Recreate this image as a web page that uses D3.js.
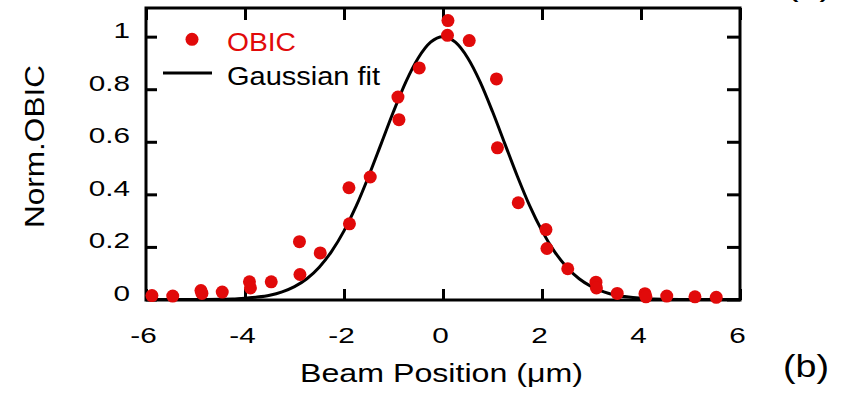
<!DOCTYPE html>
<html>
<head>
<meta charset="utf-8">
<script src="https://cdn.jsdelivr.net/npm/d3@7"></script>
<style>
  html, body { margin: 0; padding: 0; background: #fff; }
  svg { display: block; }
  text { font-family: "Liberation Sans", Arial, Helvetica, sans-serif; }
</style>
</head>
<body>
<svg id="chart" width="841" height="395"></svg>
<script>
// ---- data ----
const obicX = [-5.88, -5.46, -4.89, -4.87, -4.46, -3.91, -3.89, -3.47, -2.90, -2.89, -2.48,
               -1.90, -1.89, -1.47, -0.91, -0.89, -0.48, 0.09, 0.10, 0.53, 1.08, 1.10,
               1.52, 2.08, 2.10, 2.52, 3.09, 3.10, 3.52, 4.08, 4.10, 4.52, 5.09, 5.52];
const obicY = [0.015, 0.013, 0.034, 0.023, 0.028, 0.067, 0.044, 0.067, 0.220, 0.095, 0.177,
               0.425, 0.288, 0.466, 0.770, 0.684, 0.881, 1.005, 1.061, 0.985, 0.839, 0.577,
               0.368, 0.266, 0.194, 0.117, 0.066, 0.044, 0.023, 0.022, 0.010, 0.013, 0.010, 0.008];

const fitX = [-6, -5.5, -5, -4.5, -4.25, -4, -3.75, -3.5, -3.25, -3, -2.75, -2.5, -2.25, -2, -1.75,
              -1.5, -1.25, -1, -0.75, -0.5, -0.25, 0, 0.25, 0.5, 0.75, 1, 1.25, 1.5, 1.75, 2,
              2.25, 2.5, 2.75, 3, 3.25, 3.5, 3.75, 4, 4.25, 4.5, 5, 5.5, 6];
const fitY = [0, 0, 0, 0.001, 0.002, 0.005, 0.009, 0.016, 0.029, 0.049, 0.079, 0.123, 0.183, 0.261, 0.357,
              0.470, 0.592, 0.715, 0.828, 0.919, 0.979, 1.000, 0.979, 0.919, 0.828, 0.715, 0.592, 0.470, 0.357, 0.261,
              0.183, 0.123, 0.079, 0.049, 0.029, 0.016, 0.009, 0.005, 0.002, 0.001, 0, 0, 0];

const xTicks = [-6, -4, -2, 0, 2, 4, 6];
const xTickLabels = ["-6", "-4", "-2", "0", "2", "4", "6"];
const yTicks = [0, 0.2, 0.4, 0.6, 0.8, 1];
const yTickLabels = ["0", "0.2", "0.4", "0.6", "0.8", "1"];
const seriesNames = ["OBIC", "Gaussian fit"];
const xTitle = "Beam Position (\u03BCm)";
const yTitle = "Norm.OBIC";
const panelLabels = ["(a)", "(b)"];

// ---- layout ----
const red = "#e10a0a";
const L = 146, R = 740, T = 8, B = 300;
const svg = d3.select("#chart");

const x = d3.scaleLinear().domain([-6, 6]).range([L, R]);
const y = d3.scaleLinear().domain([-0.002, 1.109]).range([B, T]);

const sx = 1.35; // horizontal stretch of tick labels

// bottom axis
const gB = svg.append("g").attr("transform", `translate(0,${B})`)
  .call(d3.axisBottom(x).tickValues(xTicks).tickSizeInner(-11).tickSizeOuter(0)
        .tickFormat((d, i) => xTickLabels[i]));
gB.selectAll("text").attr("y", 0).attr("dy", 0).attr("transform", `translate(-3,43) scale(${sx},1)`);

// top axis
svg.append("g").attr("transform", `translate(0,${T})`)
  .call(d3.axisTop(x).tickValues(xTicks).tickSizeInner(-12).tickSizeOuter(0).tickFormat(""));

// left axis
const gL = svg.append("g").attr("transform", `translate(${L},0)`)
  .call(d3.axisLeft(y).tickValues(yTicks).tickSizeInner(-11).tickSizeOuter(0)
        .tickFormat((d, i) => yTickLabels[i]));
gL.selectAll("text").attr("x", 0).attr("dy", 0).attr("transform", `translate(-16,1) scale(${sx},1)`);

// right axis
svg.append("g").attr("transform", `translate(${R},0)`)
  .call(d3.axisRight(y).tickValues(yTicks).tickSizeInner(-13).tickSizeOuter(0).tickFormat(""));

svg.selectAll(".domain").remove();
svg.selectAll(".tick line").attr("stroke", "#000").attr("stroke-width", 3);
svg.selectAll(".tick text").attr("font-size", 22).attr("fill", "#000")
   .attr("font-family", "'Liberation Sans', Arial, sans-serif");

// frame
svg.append("rect").attr("x", L).attr("y", T).attr("width", R - L).attr("height", B - T)
  .attr("fill", "none").attr("stroke", "#000").attr("stroke-width", 3);

// fit line
const line = d3.line().x((d, i) => x(fitX[i])).y((d, i) => y(fitY[i])).curve(d3.curveMonotoneX);
svg.append("path").datum(fitX).attr("d", line)
  .attr("fill", "none").attr("stroke", "#000").attr("stroke-width", 3);

// points
svg.append("g").selectAll("circle").data(obicX).join("circle")
  .attr("cx", (d) => x(d)).attr("cy", (d, i) => y(obicY[i])).attr("r", 6.5).attr("fill", red);

// legend
svg.append("circle").attr("cx", 192).attr("cy", 39.3).attr("r", 6.5).attr("fill", red);
svg.append("text").attr("x", 227).attr("y", 50.5).attr("font-size", 26).attr("fill", red)
  .attr("textLength", 69).attr("lengthAdjust", "spacingAndGlyphs").text(seriesNames[0]);
svg.append("line").attr("x1", 163).attr("x2", 212).attr("y1", 73).attr("y2", 73)
  .attr("stroke", "#000").attr("stroke-width", 3);
svg.append("text").attr("x", 227).attr("y", 85).attr("font-size", 26).attr("fill", "#000")
  .attr("textLength", 153).attr("lengthAdjust", "spacingAndGlyphs").text(seriesNames[1]);

// axis titles
svg.append("text").attr("x", 441.5).attr("y", 382).attr("text-anchor", "middle")
  .attr("font-size", 25).attr("fill", "#000")
  .attr("textLength", 283).attr("lengthAdjust", "spacingAndGlyphs").text(xTitle);
svg.append("text").attr("transform", "translate(43.5,146.5) rotate(-90)").attr("text-anchor", "middle")
  .attr("font-size", 27).attr("fill", "#000")
  .attr("textLength", 163).attr("lengthAdjust", "spacingAndGlyphs").text(yTitle);

// panel labels (the top one is cut by the top edge in the reference)
svg.append("text").attr("x", 786).attr("y", -5).attr("font-size", 32).attr("fill", "#000")
  .attr("textLength", 46).attr("lengthAdjust", "spacingAndGlyphs").text(panelLabels[0]);
svg.append("text").attr("x", 783).attr("y", 376.5).attr("font-size", 32).attr("fill", "#000")
  .attr("textLength", 46).attr("lengthAdjust", "spacingAndGlyphs").text(panelLabels[1]);
</script>
</body>
</html>
